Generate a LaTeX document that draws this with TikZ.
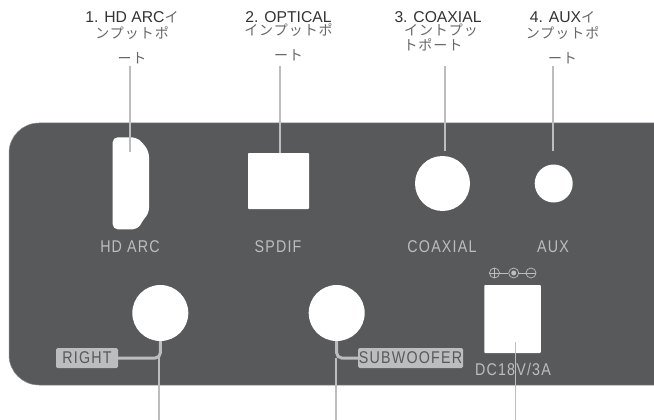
\documentclass[tikz,border=0pt]{standalone}
\usepackage{fontspec}
\setmainfont{Liberation Sans}
\newfontfamily\cjkf[LetterSpace=7]{Noto Sans CJK JP}
\newfontfamily\panelf[FakeStretch=0.84,LetterSpace=7]{Liberation Sans}
\definecolor{panel}{HTML}{58595B}
\definecolor{lead}{HTML}{BCBDBF}
\definecolor{ink}{HTML}{333333}
\definecolor{cjkink}{HTML}{666666}
\newcommand{\jp}[1]{{\cjkf\color{cjkink}\fontsize{14}{15}\selectfont #1}}
\tikzset{
  port/.style={fill=white,draw=none},
  roundport/.style={port,circle,inner sep=0pt,minimum size=#1},
  squareport/.style={port,rectangle,rounded corners=0.8pt,inner sep=0pt},
  paneltext/.style={text=lead,inner sep=0pt,font=\panelf\fontsize{17}{18}\selectfont},
  tag/.style={fill=lead,text=panel,rounded corners=1.5pt,inner sep=0pt,minimum height=20pt,font=\panelf\fontsize{17}{18}\selectfont},
  leader/.style={draw=lead,line width=1.5pt},
  stub/.style={draw=lead,line width=3pt,rounded corners=5pt},
  caption/.style={anchor=north,inner sep=0pt,align=center,text=ink,font=\fontsize{15.7}{16}\selectfont},
  sym/.style={draw=lead,line width=0.7pt}
}
\begin{document}
\begin{tikzpicture}[x=1pt,y=-1pt]
\useasboundingbox (0,0) rectangle (654,420);
% panel
\path[fill=panel,draw=panel!70!white,line width=0.5pt,rounded corners=30pt] (9,123) rectangle (690,385);
\fill[white] (654,100) rectangle (700,420);
% ports
\path[port,rounded corners=5pt] (112.7,137.3) -- (136,137.3) -- (143,143) -- (149,152) -- (149,213) -- (143,220) -- (138,229.3) -- (112.7,229.3) -- cycle;
\coordinate (hdmi) at (130,152);
\node[squareport,minimum width=61pt,minimum height=56pt] (spdif) at (278.5,181) {};
\node[roundport=55pt] (coax) at (442.5,183.5) {};
\node[roundport=38pt] (aux) at (553.7,183.5) {};
\node[roundport=56pt] (right) at (160.3,313) {};
\node[roundport=56pt] (sub) at (336.7,313) {};
\node[squareport,minimum width=56.5pt,minimum height=68pt] (dc) at (512.5,319) {};
% panel texts
\node[paneltext] (t1) at (130,247) {HD ARC};
\node[paneltext] (t2) at (278,247) {SPDIF};
\node[paneltext] (t3) at (442,247) {COAXIAL};
\node[paneltext] (t4) at (553,247) {AUX};
\node[paneltext] (t5) at (513,369) {DC18V/3A};
\node[tag,minimum width=62pt] (tagr) at (87,358) {RIGHT};
\node[tag,minimum width=105pt] (tags) at (410.5,358) {SUBWOOFER};
% polarity symbol
\node[circle,sym,inner sep=0pt,minimum size=10pt] (plus) at (494.5,273) {};
\node[circle,sym,inner sep=0pt,minimum size=10pt] (mid) at (513.7,273) {};
\node[circle,fill=lead,inner sep=0pt,minimum size=5pt] (dot) at (513.7,273) {};
\node[circle,sym,inner sep=0pt,minimum size=10pt] (minus) at (531,273) {};
\draw[sym] (plus.north) -- (plus.south) (plus.west) -- (plus.east);
\draw[sym] (minus.west) -- (minus.east);
\draw[sym] (plus) -- (mid) (mid) -- (minus);
% captions
\node[caption] (c1) at (132,11) {1. HD ARC\jp{イ}\\[0pt]\jp{ンプットポ}\\[9pt]\jp{ート}};
\node[caption] (c2) at (288.5,11) {2. OPTICAL\\[-2.5pt]\jp{インプットポ}\\[9pt]\jp{ート}};
\node[caption] (c3) at (438,11) {3. COAXIAL\\[-2.5pt]\hspace*{6pt}\jp{イントプッ}\\[-1.5pt]\jp{トポート}\hspace*{10pt}};
\node[caption] (c4) at (562.5,11) {4. AUX\jp{イ}\\[0pt]\jp{ンプットポ}\\[9pt]\jp{ート}};
% leaders
\coordinate (top1) at (130,66);
\coordinate (top2) at (280,66);
\coordinate (top3) at (445,66);
\coordinate (top4) at (553,66);
\coordinate (end2) at (280,153);
\coordinate (end3) at (445,151);
\coordinate (end4) at (553,151);
\coordinate (bot1) at (159,420);
\coordinate (bot2) at (336,420);
\coordinate (bot3) at (515.7,420);
\coordinate (end7) at (515.7,342);
\coordinate (j1) at (159,358);
\coordinate (j2) at (336,358);
\draw[leader] (top1) -- (hdmi);
\draw[leader] (top2) -- (end2);
\draw[leader] (top3) -- (end3);
\draw[leader] (top4) -- (end4);
\draw[stub] (right.south) |- (tagr.east);
\draw[stub] (sub.south) |- (tags.west);
\draw[leader] (j1) -- (bot1);
\draw[leader] (j2) -- (bot2);
\draw[leader] (end7) -- (bot3);
\end{tikzpicture}
\end{document}
